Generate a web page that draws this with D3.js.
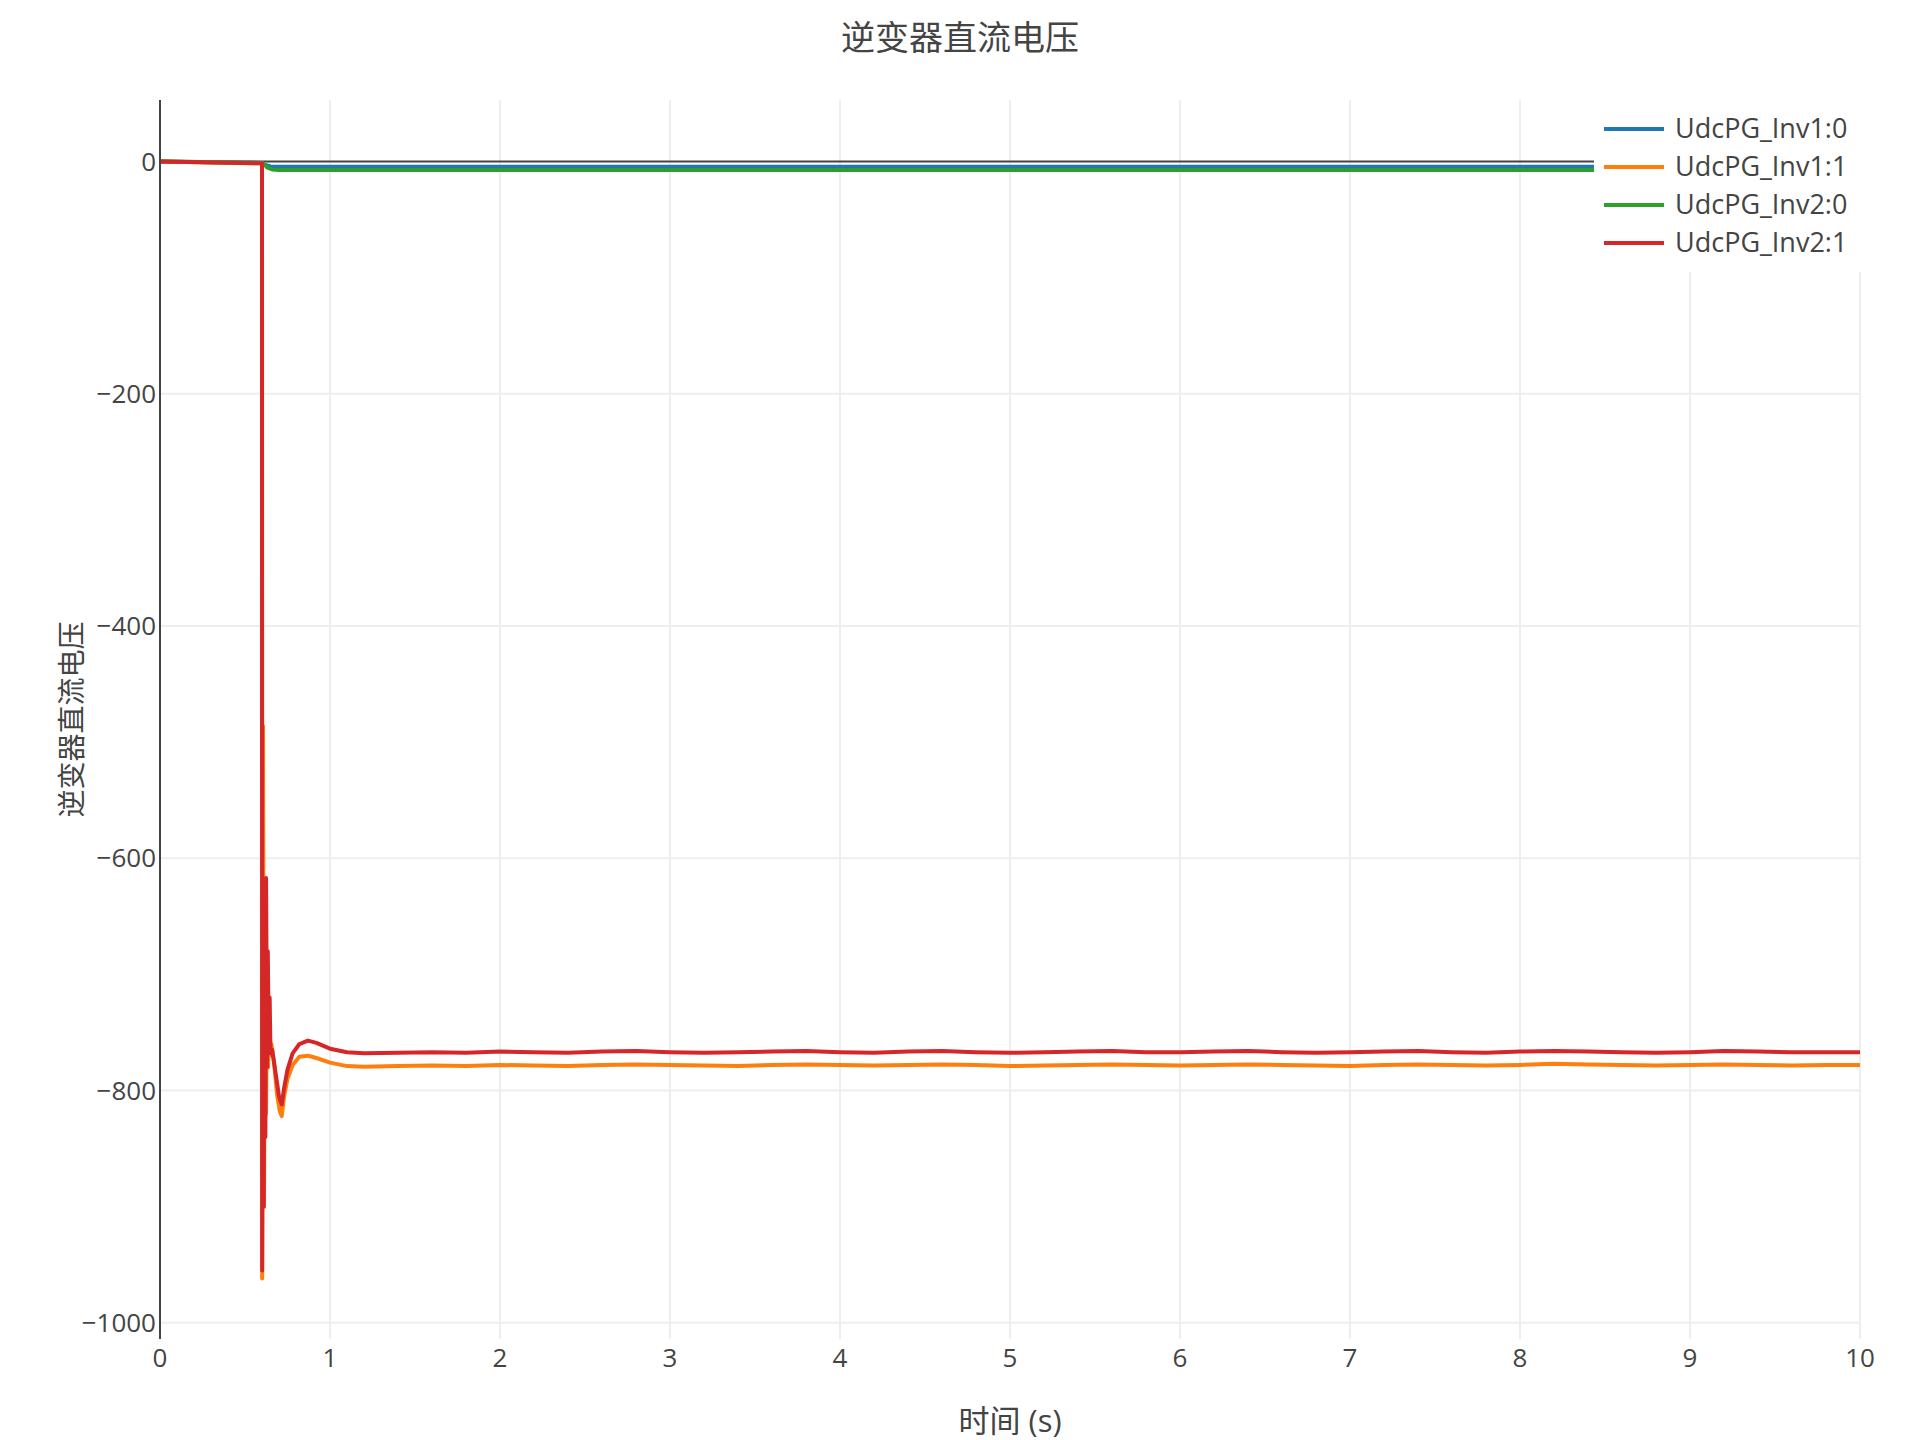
<!DOCTYPE html>
<html>
<head>
<meta charset="utf-8">
<script src="https://cdn.jsdelivr.net/npm/d3@7"></script>
<style>
  body { margin: 0; background: #fff; }
  text { font-family: "Open Sans", "Noto Sans CJK SC", sans-serif; fill: #444; }
</style>
</head>
<body>
<script>
var W = 1920, H = 1440;

var title = "逆变器直流电压";
var xTitle = "时间 (s)";
var yTitle = "逆变器直流电压";

var seriesNames = ["UdcPG_Inv1:0", "UdcPG_Inv1:1", "UdcPG_Inv2:0", "UdcPG_Inv2:1"];
var colors = ["#1f77b4", "#ff7f0e", "#2ca02c", "#d62728"];

var xTicks = [0, 1, 2, 3, 4, 5, 6, 7, 8, 9, 10];
var yTicks = [0, -200, -400, -600, -800, -1000];

// start-up and transient part
var inv1_0_t = [0, 0.6, 0.602, 0.62, 0.65, 0.7, 10];
var inv1_0_v = [0, -1.2, -2, -3, -4.2, -4.5, -4.5];

var inv2_0_t = [0, 0.6, 0.605, 0.615, 0.63, 0.66, 0.7, 10];
var inv2_0_v = [0, -1.2, -3, -2.5, -5, -6.8, -7.2, -7.2];

var inv1_1_t = [0, 0.6, 0.601, 0.606, 0.612, 0.618, 0.624, 0.63, 0.636, 0.642, 0.648, 0.655, 0.67, 0.69, 0.705, 0.716, 0.73, 0.75, 0.78, 0.82, 0.87, 0.92, 1.0, 1.1];
var inv1_1_v = [0, -1.5, -962, -486, -900, -640, -820, -690, -780, -735, -770, -760, -775, -805, -818, -822, -805, -790, -778, -771, -770, -772, -776, -779];

var inv2_1_t = [0, 0.6, 0.601, 0.606, 0.61, 0.615, 0.62, 0.624, 0.63, 0.634, 0.64, 0.645, 0.65, 0.66, 0.68, 0.7, 0.716, 0.73, 0.75, 0.78, 0.82, 0.87, 0.92, 1.0, 1.1];
var inv2_1_v = [0, -1.5, -955, -700, -900, -640, -840, -617, -780, -680, -760, -720, -768, -765, -785, -805, -812, -798, -782, -768, -760, -757, -759, -764, -767];

// steady state after 1.2 s
var steadyT = [1.2, 1.4, 1.6, 1.8, 2.0, 2.2, 2.4, 2.6, 2.8, 3.0, 3.2, 3.4, 3.6, 3.8, 4.0,
               4.2, 4.4, 4.6, 4.8, 5.0, 5.2, 5.4, 5.6, 5.8, 6.0, 6.2, 6.4, 6.6, 6.8, 7.0,
               7.2, 7.4, 7.6, 7.8, 8.0, 8.2, 8.4, 8.6, 8.8, 9.0, 9.2, 9.4, 9.6, 9.8, 10.0];
var inv1_1_steady = [-779.5, -779, -778.5, -779, -778, -778.5, -779, -778, -777.5, -778, -778.5, -779, -778, -777.5, -778,
                     -778.5, -778, -777.5, -778, -779, -778.5, -778, -777.5, -778, -778.5, -778, -777.5, -778, -778.5, -779,
                     -778, -777.5, -778, -778.5, -778, -777, -777.5, -778, -778.5, -778, -777.5, -778, -778.5, -778, -778];
var inv2_1_steady = [-768, -767.5, -767, -767.5, -766.5, -767, -767.5, -766.5, -766, -767, -767.5, -767, -766.5, -766, -767,
                     -767.5, -766.5, -766, -767, -767.5, -767, -766.5, -766, -767, -767, -766.5, -766, -767, -767.5, -767,
                     -766.5, -766, -767, -767.5, -766.5, -766, -766.5, -767, -767.5, -767, -766, -766.5, -767, -767, -767];

function pairs(ts, vs) { return ts.map(function(t, i) { return [t, vs[i]]; }); }

var series = [
  pairs(inv1_0_t, inv1_0_v),
  pairs(inv1_1_t.concat(steadyT), inv1_1_v.concat(inv1_1_steady)),
  pairs(inv2_0_t, inv2_0_v),
  pairs(inv2_1_t.concat(steadyT), inv2_1_v.concat(inv2_1_steady))
];

var pLeft = 160, pRight = 1860, pTop = 100, pBottom = 1339;

var x = d3.scaleLinear().domain([0, 10]).range([pLeft, pRight]);
var y = d3.scaleLinear().domain([-1014, 53]).range([pBottom, pTop]);

var svg = d3.select("body").append("svg")
    .attr("width", W)
    .attr("height", H);

svg.append("defs").append("clipPath")
    .attr("id", "clip")
  .append("rect")
    .attr("x", pLeft)
    .attr("y", pTop)
    .attr("width", pRight - pLeft)
    .attr("height", pBottom - pTop);

// grid
svg.append("g")
  .selectAll("line")
  .data(xTicks.filter(function(d) { return d !== 0; }))
  .enter().append("line")
    .attr("x1", function(d) { return x(d); })
    .attr("x2", function(d) { return x(d); })
    .attr("y1", pTop)
    .attr("y2", pBottom)
    .attr("stroke", "#eee")
    .attr("stroke-width", 2);

svg.append("g")
  .selectAll("line")
  .data(yTicks.filter(function(d) { return d !== 0; }))
  .enter().append("line")
    .attr("x1", pLeft)
    .attr("x2", pRight)
    .attr("y1", function(d) { return y(d); })
    .attr("y2", function(d) { return y(d); })
    .attr("stroke", "#eee")
    .attr("stroke-width", 2);

// zero line
svg.append("line")
    .attr("x1", pLeft)
    .attr("x2", pRight)
    .attr("y1", y(0))
    .attr("y2", y(0))
    .attr("stroke", "#444")
    .attr("stroke-width", 2);

// traces
var line = d3.line()
    .x(function(d) { return x(d[0]); })
    .y(function(d) { return y(d[1]); });

svg.append("g")
    .attr("clip-path", "url(#clip)")
  .selectAll("path")
  .data(series)
  .enter().append("path")
    .attr("d", line)
    .attr("fill", "none")
    .attr("stroke", function(d, i) { return colors[i]; })
    .attr("stroke-width", 4)
    .attr("stroke-linejoin", "round");

// y axis line
svg.append("line")
    .attr("x1", pLeft)
    .attr("x2", pLeft)
    .attr("y1", pTop)
    .attr("y2", pBottom)
    .attr("stroke", "#444")
    .attr("stroke-width", 2);

// tick labels
svg.append("g")
  .selectAll("text")
  .data(yTicks)
  .enter().append("text")
    .attr("x", pLeft - 4)
    .attr("y", function(d) { return y(d); })
    .attr("dy", "0.35em")
    .attr("text-anchor", "end")
    .style("font-size", "26px")
    .text(function(d) { return d < 0 ? "\u2212" + Math.abs(d) : d; });

svg.append("g")
  .selectAll("text")
  .data(xTicks)
  .enter().append("text")
    .attr("x", function(d) { return x(d); })
    .attr("y", 1367)
    .attr("text-anchor", "middle")
    .style("font-size", "26px")
    .text(function(d) { return d; });

// titles
svg.append("text")
    .attr("x", 960)
    .attr("y", 50)
    .attr("text-anchor", "middle")
    .style("font-size", "34px")
    .text(title);

svg.append("text")
    .attr("x", (pLeft + pRight) / 2)
    .attr("y", 1432)
    .attr("text-anchor", "middle")
    .style("font-size", "31px")
    .text(xTitle);

svg.append("text")
    .attr("transform", "translate(82," + ((pTop + pBottom) / 2) + ") rotate(-90)")
    .attr("text-anchor", "middle")
    .style("font-size", "28px")
    .text(yTitle);

// legend
var legend = svg.append("g");

legend.append("rect")
    .attr("x", 1594)
    .attr("y", pTop)
    .attr("width", W - 1594)
    .attr("height", 172)
    .attr("fill", "#fff");

var item = legend.selectAll("g")
  .data(seriesNames)
  .enter().append("g")
    .attr("transform", function(d, i) { return "translate(1604," + (129 + i * 38) + ")"; });

item.append("line")
    .attr("x1", 0)
    .attr("x2", 60)
    .attr("stroke", function(d, i) { return colors[i]; })
    .attr("stroke-width", 4);

item.append("text")
    .attr("x", 71)
    .attr("dy", "0.35em")
    .style("font-size", "27px")
    .text(function(d) { return d; });
</script>
</body>
</html>
